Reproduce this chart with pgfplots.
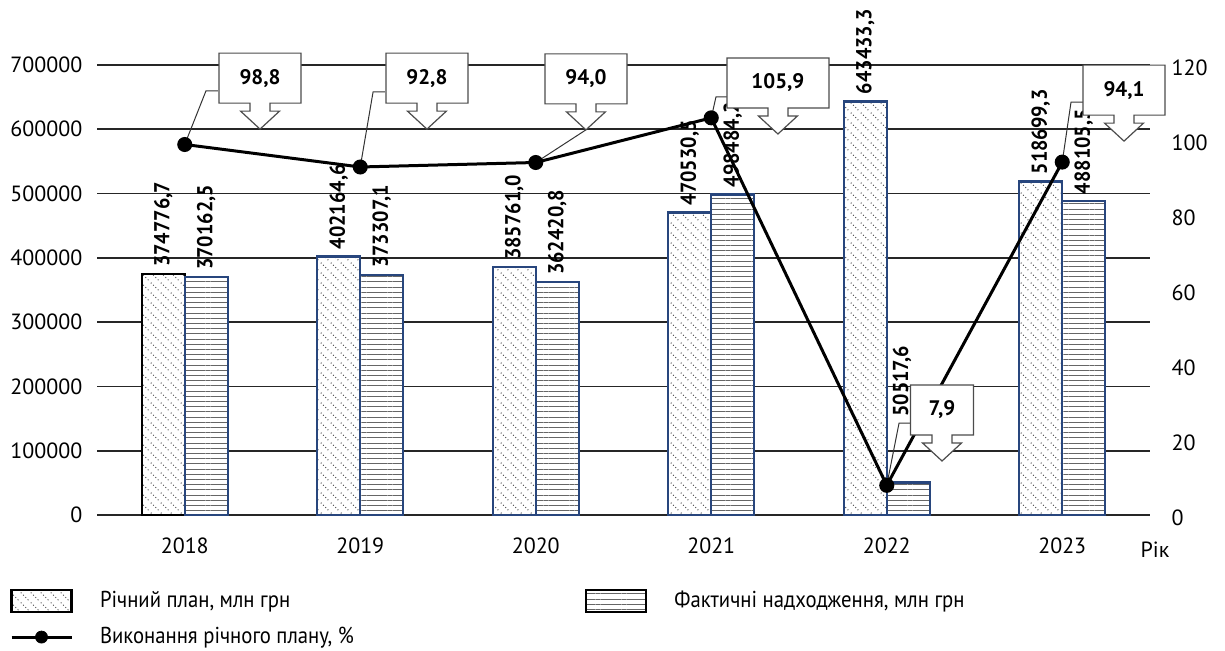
\documentclass[border=0pt]{standalone}
\usepackage{fontspec}
\setmainfont{PT Sans}
\newfontfamily\legendfont{PT Sans}[FakeStretch=0.9]
\newfontfamily\labelfont{PT Sans}[FakeStretch=0.93]
\usepackage{pgfplots}
\pgfplotsset{compat=1.18}
\usetikzlibrary{patterns,patterns.meta}

\definecolor{barblue}{RGB}{40,70,125}

\pgfdeclarepattern{
  name=dotdiag,
  type=uncolored,
  bottom left={\pgfpoint{0pt}{0pt}},
  top right={\pgfpoint{5pt}{5pt}},
  tile size={\pgfpoint{5pt}{5pt}},
  code={
    \pgfpathcircle{\pgfpoint{0.625pt}{4.375pt}}{0.36pt}
    \pgfpathcircle{\pgfpoint{1.875pt}{3.125pt}}{0.36pt}
    \pgfpathcircle{\pgfpoint{3.125pt}{1.875pt}}{0.36pt}
    \pgfpathcircle{\pgfpoint{4.375pt}{0.625pt}}{0.36pt}
    \pgfusepath{fill}
  }
}

\tikzset{
  planfill/.style={fill=white, postaction={pattern=dotdiag, pattern color=black!70}},
  factfill/.style={fill=white, postaction={pattern={Lines[angle=0,distance=2.6pt,line width=0.45pt]}, pattern color=black!60}},
  barlabel/.style={rotate=90, anchor=west, font=\labelfont\bfseries\fontsize{10.8}{12}\selectfont, inner sep=3pt, text=black},
}

\newcommand{\callout}[4]{%
  \draw[line width=0.6pt, draw=black!70, fill=white] (axis cs:#1,#2) -- ++(9.75pt,9pt) -- ++(-4.75pt,0pt) -- ++(0pt,4pt) -- ++(#3pt-5pt,0pt) -- ++(0pt,25pt) -- ++(-2*#3pt,0pt) -- ++(0pt,-25pt) -- ++(#3pt-5pt,0pt) -- ++(0pt,-4pt) -- ++(-4.75pt,0pt) -- cycle;
  \node[font=\bfseries\fontsize{10.5}{12}\selectfont, yshift=25.5pt] at (axis cs:#1,#2) {#4};
}

\begin{document}
\begin{tikzpicture}
\path[use as bounding box] (-48.5pt,-68pt) rectangle (564pt,257.5pt);
\begin{axis}[
  at={(0pt,0pt)}, anchor=south west,
  scale only axis, width=526.5pt, height=225pt,
  xmin=-0.5, xmax=5.5, ymin=0, ymax=700000,
  xtick={0,1,2,3,4,5}, xticklabels={\mbox{2018},\mbox{2019},\mbox{2020},\mbox{2021},\mbox{2022},\mbox{2023}},
  ytick={0,100000,200000,300000,400000,500000,600000,700000},
  yticklabels={\mbox{0},\mbox{100000},\mbox{200000},\mbox{300000},\mbox{400000},\mbox{500000},\mbox{600000},\mbox{700000}},
  scaled y ticks=false,
  ymajorgrids, grid style={black!85, line width=0.8pt},
  axis line style={draw=none},
  major tick length=0pt,
  tick label style={font=\fontsize{11}{13}\selectfont},
  yticklabel style={xshift=-3.8pt},
  xticklabel style={yshift=-8pt},
  clip=false,
  legend columns=2,
  legend cell align=left,
  legend style={at={(axis description cs:-0.0826,-0.1644)}, anchor=north west,
    draw=none, fill=none, inner sep=0pt, outer sep=0pt, row sep=7pt, column sep=0pt,
    font=\legendfont\fontsize{11.5}{13}\selectfont,
    nodes={inner sep=0pt, anchor=west},
    /tikz/every odd column/.append style={column sep=13.5pt}},
]
% Річний план, 2018 (black border); bars drawn at group position - 0.1225
\addplot[ybar, bar width=0.245, bar shift=0, draw=black, line width=1.2pt, planfill,
  nodes near coords, point meta=explicit symbolic,
  every node near coord/.append style={barlabel}, forget plot]
  coordinates {(-0.1225,374776.7) [374776{,}7]};
% Річний план, 2019-2023
\addplot[ybar, bar width=0.245, bar shift=0, draw=barblue, line width=1.2pt, planfill,
  nodes near coords, point meta=explicit symbolic,
  every node near coord/.append style={barlabel}, forget plot]
  coordinates {(0.8775,402164.6) [402164{,}6] (1.8775,385761.0) [385761{,}0] (2.8775,470530.5) [470530{,}5]
               (3.8775,643433.3) [643433{,}3] (4.8775,518699.3) [518699{,}3]};
% Фактичні надходження (group position + 0.1225)
\addplot[ybar, bar width=0.245, bar shift=0, draw=barblue, line width=1.2pt, factfill,
  nodes near coords, point meta=explicit symbolic,
  every node near coord/.append style={barlabel}, forget plot]
  coordinates {(0.1225,370162.5) [370162{,}5] (1.1225,373307.1) [373307{,}1] (2.1225,362420.8) [362420{,}8]
               (3.1225,498484.2) [498484{,}2] (5.1225,488105.5) [488105{,}5]};
\addplot[ybar, bar width=0.245, bar shift=0, draw=barblue, line width=1.2pt, factfill, forget plot]
  coordinates {(4.1225,50517.6)};
\node[barlabel] at (axis cs:4.087,143000) {50517,6};

\addlegendimage{legend image code/.code={\draw[draw=black, line width=1.2pt, planfill] (0pt,-5.5pt) rectangle (30pt,5.5pt);}}
\addlegendentry{\makebox[242.5pt][l]{Річний план, млн грн}}
\addlegendimage{legend image code/.code={\draw[draw=black, line width=1.2pt, factfill] (0pt,-5.5pt) rectangle (30pt,5.5pt);}}
\addlegendentry{Фактичні надходження, млн грн}
\addlegendimage{legend image code/.code={\draw[black, line width=1.5pt] (0pt,0pt) -- (30pt,0pt); \fill[black] (15pt,0pt) circle (3pt);}}
\addlegendentry{Виконання річного плану, \%}
\end{axis}

\begin{axis}[
  at={(0pt,0pt)}, anchor=south west,
  scale only axis, width=526.5pt, height=225pt,
  xmin=-0.5, xmax=5.5, ymin=0, ymax=120,
  axis x line=none, axis y line*=right,
  axis line style={draw=none},
  ytick={0,20,40,60,80,100,120},
  yticklabels={\mbox{0},\mbox{20},\mbox{40},\mbox{60},\mbox{80},\mbox{100},\mbox{120}},
  major tick length=0pt,
  yticklabel style={font=\fontsize{11}{13}\selectfont, xshift=7.3pt, yshift=-1.5pt},
  clip=false,
]
\addplot[black, line width=1.5pt, mark=*, mark size=3pt, mark options={fill=black}]
  coordinates {(0,98.8) (1,92.8) (2,94.0) (3,105.9) (4,7.9) (5,94.1)};

\draw[black!80, line width=0.5pt] (axis cs:0,98.8) -- (axis cs:0.121,113.1) -- (axis cs:0.189,113.1);
\draw[black!80, line width=0.5pt] (axis cs:1,92.8) -- (axis cs:1.073,112.8) -- (axis cs:1.141,112.8);
\draw[black!80, line width=0.5pt] (axis cs:2,94.0) -- (axis cs:2.286,102.7);
\draw[black!80, line width=0.5pt] (axis cs:3,105.9) -- (axis cs:3.027,111.5) -- (axis cs:3.090,111.5);
\draw[black!80, line width=0.5pt] (axis cs:4,7.9) -- (axis cs:4.070,24.5) -- (axis cs:4.138,24.5);
\draw[black!80, line width=0.5pt] (axis cs:5,94.1) -- (axis cs:5.050,110.1) -- (axis cs:5.118,110.1);

\callout{0.429}{102.9}{20.5}{98,8}
\callout{1.380}{102.9}{20.5}{92,8}
\callout{2.286}{102.7}{20.5}{94,0}
\callout{3.380}{101.6}{25.5}{105,9}
\callout{4.315}{14.4}{15.75}{7,9}
\callout{5.352}{99.7}{20.5}{94,1}

\node[font=\fontsize{11}{13}\selectfont, xshift=2.5pt, yshift=-17.5pt] at (rel axis cs:1,0) {Рік};
\end{axis}
\end{tikzpicture}
\end{document}
